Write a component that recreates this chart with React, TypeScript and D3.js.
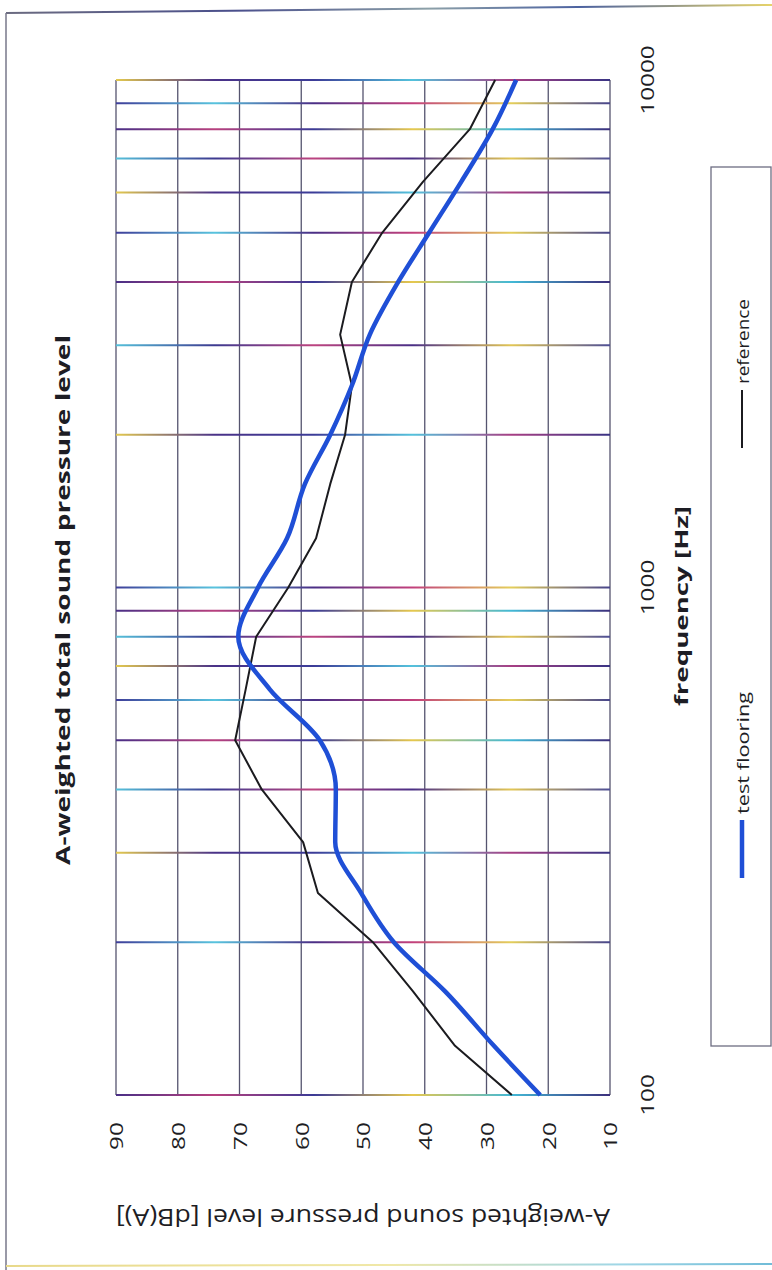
import React from "react";
import * as d3 from "d3";

// One-third octave band centres and measured A-weighted levels
const FREQUENCIES = [100, 125, 160, 200, 250, 315, 400, 500, 630, 800, 1000, 1250, 1600, 2000, 2500, 3150, 4000, 5000, 6300, 8000, 10000];
const TEST_FLOORING = [21.3, 28.8, 36.7, 45.0, 50.3, 54.5, 54.4, 57.0, 65.1, 70.2, 67.0, 62.3, 59.4, 55.3, 51.8, 48.9, 44.3, 39.3, 34.1, 29.0, 25.2];
const REFERENCE = [25.9, 35.1, 41.9, 48.4, 57.3, 59.7, 66.4, 70.7, 69.0, 67.3, 62.1, 57.6, 55.3, 52.9, 51.8, 53.7, 51.8, 46.9, 40.3, 32.7, 28.6];

// Axis ticks and grid
const LEVEL_TICKS = [90, 80, 70, 60, 50, 40, 30, 20, 10];
const FREQ_LABELS = [100, 1000, 10000];
const FREQ_GRID = [100, 200, 300, 400, 500, 600, 700, 800, 900, 1000, 2000, 3000, 4000, 5000, 6000, 7000, 8000, 9000, 10000];

const SERIES_NAMES = ["test flooring", "reference"];
const TITLE = "A-weighted total sound pressure level";
const LEVEL_TITLE = "A-weighted sound pressure level [dB(A)]";
const FREQ_TITLE = "frequency [Hz]";

// print-like colour fringes along the frequency grid lines
const FRINGES = [
  ["#4a2f86", "#b8407e", "#3b3a96", "#e6c84e", "#43b9d6", "#3c2f7c"],
  ["#3f3f9a", "#58c4de", "#4a2f86", "#c2407c", "#e4ce5a", "#47458c"],
  ["#e3c94f", "#4a3288", "#3c3c98", "#54c2dc", "#a73f84", "#3a3484"],
  ["#55c0da", "#3d3a90", "#bd4480", "#4a2f86", "#e2c655", "#4e4f96"],
];

const FONT = "'Open Sans', 'Liberation Sans', sans-serif";
const SY = 1.28;

const plot = { left: 116, right: 610, top: 80, bottom: 1095 };

type VTextProps = {
  x: number;
  y: number;
  size: number;
  text: string;
  bold?: boolean;
  anchor?: "start" | "middle" | "end";
  length?: number;
  fill?: string;
};

// Text reading bottom-to-top, stretched along its reading direction
function VText({ x, y, size, text, bold, anchor = "middle", length, fill = "#1d1d24" }: VTextProps) {
  return (
    <text
      transform={`translate(${x},${y}) scale(1,${SY}) rotate(-90)`}
      fontFamily={FONT}
      fontSize={size}
      fontWeight={bold ? 700 : 400}
      textAnchor={anchor}
      dominantBaseline="central"
      fill={fill}
      {...(length ? { textLength: length / SY, lengthAdjust: "spacingAndGlyphs" } : {})}
    >
      {text}
    </text>
  );
}

export default function App() {
  const fy = d3.scaleLog().domain([100, 10000]).range([plot.bottom, plot.top]);
  const vx = d3.scaleLinear().domain([90, 10]).range([plot.left, plot.right]);

  const testLine = d3
    .line<number>()
    .x((d) => vx(d))
    .y((_, i) => fy(FREQUENCIES[i]))
    .curve(d3.curveMonotoneY);
  const refLine = d3
    .line<number>()
    .x((d) => vx(d))
    .y((_, i) => fy(FREQUENCIES[i]));

  const legend = { x: 711, y: 167, w: 60, h: 879 };

  return (
    <svg
      width={772}
      height={1270}
      viewBox="0 0 772 1270"
      style={{ position: "absolute", left: 0, top: 0, background: "#fff" }}
    >
      <defs>
        {FRINGES.map((stops, k) => (
          <linearGradient key={k} id={`fringe${k}`} gradientUnits="userSpaceOnUse" x1={plot.left} x2={plot.right} y1={0} y2={0}>
            {stops.map((c, j) => (
              <stop key={j} offset={j / (stops.length - 1)} stopColor={c} />
            ))}
          </linearGradient>
        ))}
        <linearGradient id="frameTop" gradientUnits="userSpaceOnUse" x1={6} x2={772} y1={0} y2={0}>
          <stop offset={0} stopColor="#6b6b80" />
          <stop offset={0.3} stopColor="#4a4f8c" />
          <stop offset={0.55} stopColor="#8ca0a8" />
          <stop offset={0.75} stopColor="#4c62a0" />
          <stop offset={1} stopColor="#e6d36a" />
        </linearGradient>
        <linearGradient id="frameBottom" gradientUnits="userSpaceOnUse" x1={6} x2={772} y1={0} y2={0}>
          <stop offset={0} stopColor="#e8d98a" />
          <stop offset={0.5} stopColor="#f0e8a8" />
          <stop offset={0.8} stopColor="#9fd6e6" />
          <stop offset={1} stopColor="#70bcd8" />
        </linearGradient>
      </defs>

      {/* chart area frame */}
      <line x1={6} y1={13} x2={772} y2={5} stroke="url(#frameTop)" strokeWidth={2} />
      <line x1={6} y1={13} x2={6} y2={1270} stroke="#77778a" strokeWidth={1.5} />
      <line x1={6} y1={1266} x2={772} y2={1264} stroke="url(#frameBottom)" strokeWidth={2} />

      {/* level grid (vertical on the page) */}
      {LEVEL_TICKS.map((v) => (
        <line key={`v${v}`} x1={vx(v)} x2={vx(v)} y1={plot.top} y2={plot.bottom} stroke="#55546f" strokeWidth={1.3} />
      ))}

      {/* frequency grid (horizontal on the page) */}
      {FREQ_GRID.map((f, i) => (
        <line
          key={`f${f}`}
          x1={plot.left}
          x2={plot.right}
          y1={fy(f)}
          y2={fy(f)}
          stroke={`url(#fringe${i % FRINGES.length})`}
          strokeWidth={2}
        />
      ))}

      {/* series */}
      <path d={refLine(REFERENCE) ?? ""} fill="none" stroke="#1b1b1f" strokeWidth={2} strokeLinejoin="round" />
      <path d={testLine(TEST_FLOORING) ?? ""} fill="none" stroke="#1f4fd6" strokeWidth={4.5} strokeLinejoin="round" />

      {/* level tick labels */}
      {LEVEL_TICKS.map((v) => (
        <VText key={`lt${v}`} x={vx(v)} y={1136} size={19} text={String(v)} />
      ))}

      {/* frequency tick labels */}
      {FREQ_LABELS.map((f) => (
        <VText key={`ft${f}`} x={647} y={fy(f)} size={19} text={String(f)} />
      ))}

      {/* titles */}
      <VText x={62} y={600} size={20} bold text={TITLE} length={530} />
      <VText x={681} y={606} size={17} bold text={FREQ_TITLE} length={200} />
      <text
        transform={`translate(${(plot.left + plot.right) / 2},1218) scale(1,${SY}) rotate(180)`}
        fontFamily={FONT}
        fontSize={18}
        textAnchor="middle"
        dominantBaseline="central"
        fill="#1d1d24"
        textLength={494}
        lengthAdjust="spacingAndGlyphs"
      >
        {LEVEL_TITLE}
      </text>

      {/* legend */}
      <rect x={legend.x} y={legend.y} width={legend.w} height={legend.h} fill="none" stroke="#6d6d82" strokeWidth={1.3} />
      <line x1={742} x2={742} y1={878} y2={820} stroke="#1f4fd6" strokeWidth={4.5} />
      <VText x={742} y={814} size={16} anchor="start" text={SERIES_NAMES[0]} length={122} />
      <line x1={742} x2={742} y1={448} y2={390} stroke="#1b1b1f" strokeWidth={2} />
      <VText x={742} y={384} size={16} anchor="start" text={SERIES_NAMES[1]} length={85} />
    </svg>
  );
}
